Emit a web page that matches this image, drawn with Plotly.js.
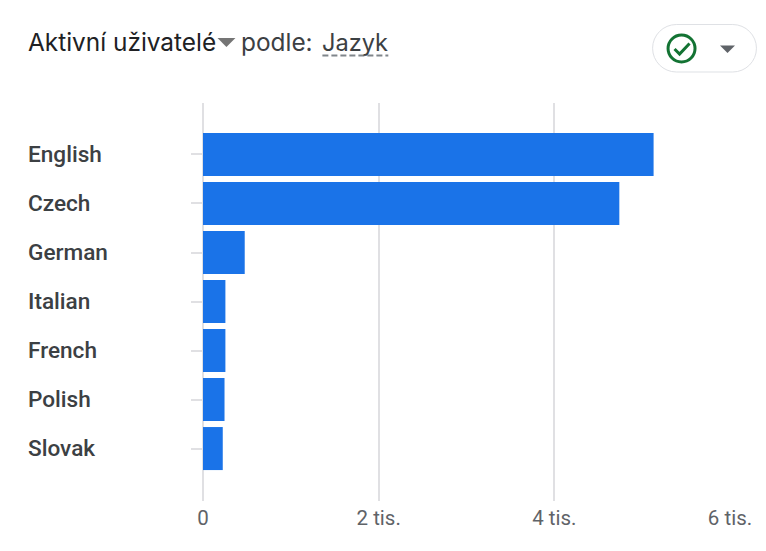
<!DOCTYPE html>
<html>
<head>
<meta charset="utf-8">
<script src="https://cdn.plot.ly/plotly-3.0.1.min.js"></script>
<style>html,body{margin:0;padding:0;background:#fff}#chart{width:766px;height:551px}</style>
</head>
<body>
<div id="chart"></div>
<script>
const categories = ["English","Czech","German","Italian","French","Polish","Slovak"];
const activeUsers = [5130,4740,475,255,255,245,225];
const tickVals = [0,2000,4000,6000];
const tickLabels = ["0","2 tis.","4 tis.","6 tis."];

const W=766,H=551,L=202.5,R=36,T=103,B=50;
const px=x=>(x-L)/(W-L-R), py=y=>1-(y-T)/(H-T-B);
const grey="#e0e0e3";
const font="Roboto, sans-serif";
const titleFont="Inter, sans-serif";
const P=(x,y)=>px(x).toFixed(4)+","+py(y).toFixed(4);
const poly=(pts,close)=>"M"+pts.map(p=>P(p[0],p[1])).join("L")+(close?"Z":"");
const tri=(x,y,w,h)=>poly([[x,y],[x+w,y],[x+w/2,y+h]],true);
const pillPath=(x0,y0,x1,y1)=>{const r=(y1-y0)/2;
  return "M"+P(x0+r,y0)+"L"+P(x1-r,y0)+"C"+P(x1-r*0.45,y0)+" "+P(x1,y0+r*0.45)+" "+P(x1,y0+r)+
  "C"+P(x1,y1-r*0.45)+" "+P(x1-r*0.45,y1)+" "+P(x1-r,y1)+"L"+P(x0+r,y1)+
  "C"+P(x0+r*0.45,y1)+" "+P(x0,y1-r*0.45)+" "+P(x0,y0+r)+"C"+P(x0,y0+r*0.45)+" "+P(x0+r*0.45,y0)+" "+P(x0+r,y0)+"Z";};
const paperShape=o=>Object.assign({xref:"paper",yref:"paper"},o);

const shapes=[
  paperShape({type:"path",path:tri(217,38,18,9),fillcolor:"#757575",line:{width:0}}),
  paperShape({type:"line",x0:px(322),x1:px(388),y0:py(55.5),y1:py(55.5),line:{color:"#80868b",width:2,dash:"6px,3px"}}),
  paperShape({type:"path",path:pillPath(652.5,24.5,756.5,72),fillcolor:"#fff",line:{color:"#dfe1e5",width:1}}),
  paperShape({type:"circle",x0:px(668),x1:px(695),y0:py(35),y1:py(62),line:{color:"#137333",width:3},fillcolor:"rgba(0,0,0,0)"}),
  paperShape({type:"path",path:poly([[674.5,49],[679.5,54],[689.5,43.5]]),line:{color:"#137333",width:3},fillcolor:"rgba(0,0,0,0)"}),
  paperShape({type:"path",path:tri(720,45.5,15,7.5),fillcolor:"#5f6368",line:{width:0}})
];

const textNote=(text,x,y,size,color,weight)=>({text,xref:"paper",yref:"paper",x:px(x),y:py(y),
  xanchor:"left",yanchor:"middle",showarrow:false,align:"left",
  font:{family:titleFont,size,color,weight:weight||400}});

const annotations=[
  textNote("Aktivní uživatelé",25,42,24.4,"#202124",400),
  textNote("podle:",238.5,42,24.4,"#3c4043",400),
  textNote("Jazyk",319.5,42,23.6,"#3c4043",400)
].concat(categories.map(c=>({text:c,xref:"paper",yref:"y",x:px(25.5),y:c,xanchor:"left",yanchor:"middle",
  showarrow:false,align:"left",font:{family:font,size:22.6,color:"#3c4043",weight:500}})));

Plotly.newPlot("chart",[{
  type:"bar",orientation:"h",x:activeUsers,y:categories,
  marker:{color:"#1a73e8",line:{width:0}},hoverinfo:"skip"
}],{
  width:W,height:H,margin:{l:L,r:R,t:T,b:B,pad:0},
  paper_bgcolor:"#fff",plot_bgcolor:"#fff",showlegend:false,bargap:0.122,
  xaxis:{range:[0,6000],tickmode:"array",tickvals:tickVals,ticktext:tickLabels,showgrid:true,gridcolor:grey,gridwidth:2,
    zeroline:true,zerolinecolor:grey,zerolinewidth:2,showline:false,ticks:"",ticklabelstandoff:2,
    tickfont:{family:font,size:20.5,color:"#5f6368"},fixedrange:true},
  yaxis:{type:"category",categoryorder:"array",categoryarray:categories,range:[7.07,-1.05],showgrid:false,zeroline:false,showline:false,
    ticks:"outside",ticklen:11,tickwidth:2,tickcolor:grey,showticklabels:false,fixedrange:true},
  shapes,annotations
},{displayModeBar:false,staticPlot:true});
</script>
</body>
</html>
